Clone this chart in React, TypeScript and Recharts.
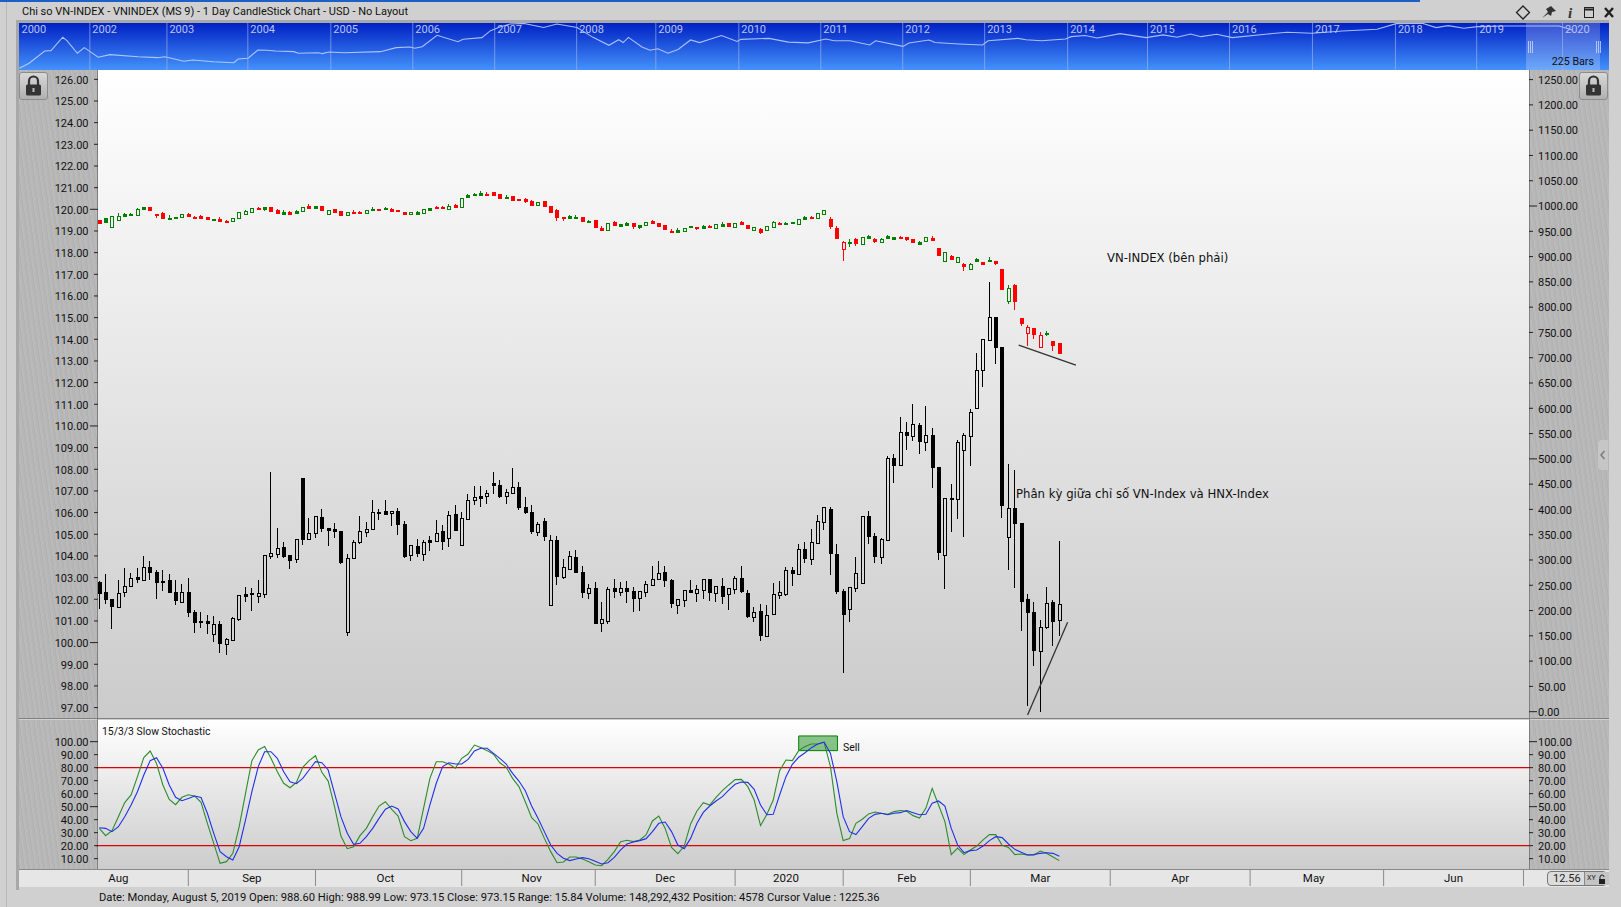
import React from 'react';
import {
  ComposedChart,
  LineChart,
  Bar,
  Line,
  XAxis,
  YAxis,
  ReferenceLine,
  ReferenceArea,
} from 'recharts';

// HNX-Index candles, left axis
const hnxOpen = [
  102.78,102.32,102.00,101.66,102.32,102.60,103.03,102.87,103.49,103.26,
  102.84,102.89,102.34,101.89,102.34,101.41,100.98,100.98,100.41,100.86,
  99.95,100.14,101.10,102.23,102.27,102.17,102.26,104.01,104.10,104.41,
  104.03,103.84,107.60,104.77,105.04,105.80,105.28,105.23,105.15,100.51,
  103.89,104.63,105.12,105.26,106.03,106.08,105.97,106.08,105.47,104.03,
  104.46,104.10,104.72,104.71,105.15,104.84,105.94,104.52,105.72,106.57,
  106.75,106.75,107.37,107.27,106.75,106.92,107.18,106.26,106.03,105.12,
  105.61,101.74,104.74,103.04,103.41,103.94,103.26,102.31,102.52,100.89,
  101.01,102.51,102.35,102.51,102.38,102.07,102.35,102.68,102.95,103.26,
  102.89,101.75,101.98,102.43,102.31,102.44,102.92,102.31,102.61,102.26,
  102.49,102.98,102.29,101.20,101.44,100.32,101.34,102.21,102.26,103.34,
  103.18,104.32,103.88,104.61,105.58,106.17,104.09,102.38,101.57,102.54,
  102.77,105.84,104.92,103.97,104.75,108.51,108.18,109.72,109.55,110.03,
  109.28,109.57,108.11,104.06,106.66,106.61,108.88,109.55,110.83,112.57,
  113.98,115.03,113.65,104.86,106.21,105.52,102.00,101.40,99.63,100.74,
  101.88,101.03,
];
const hnxHigh = [
  102.85,103.17,102.01,102.89,103.44,103.20,103.44,104.00,103.77,103.34,
  103.35,103.17,102.89,102.71,102.98,101.51,101.41,101.28,101.23,100.98,
  100.20,101.17,102.18,102.57,102.52,102.89,104.03,107.87,105.29,104.63,
  104.03,104.77,107.60,105.74,105.84,106.17,105.28,105.52,105.15,104.08,
  104.74,105.84,105.57,106.58,106.15,106.58,106.06,106.20,105.61,104.49,
  104.78,104.74,104.92,105.66,105.41,106.08,106.35,106.01,106.86,107.23,
  107.23,107.04,107.87,107.51,107.09,108.06,107.41,106.72,106.35,105.57,
  105.75,104.97,104.92,103.86,104.23,104.28,103.54,102.71,102.80,101.87,
  102.57,102.94,102.80,102.84,102.57,102.38,102.84,103.54,103.77,103.54,
  102.94,102.01,102.43,102.89,102.66,102.94,102.94,102.61,102.98,102.52,
  103.08,103.54,102.43,101.64,101.78,101.74,102.75,102.84,103.49,103.51,
  104.55,104.64,105.24,105.89,106.26,106.26,104.55,102.47,102.55,103.95,
  105.83,106.08,105.06,104.83,108.61,108.71,110.41,110.18,111.01,110.15,
  110.92,109.91,108.11,106.66,107.32,109.34,109.66,110.77,113.37,114.01,
  116.65,115.03,113.65,108.25,107.97,105.52,102.25,101.88,101.05,102.57,
  101.97,104.69,
];
const hnxLow = [
  101.57,101.78,100.63,101.60,102.11,102.60,102.77,102.86,102.89,102.03,
  102.38,102.34,101.74,101.89,101.20,100.44,100.68,100.40,100.03,99.52,
  99.44,100.07,101.01,101.87,101.46,101.83,102.06,103.86,103.92,103.92,
  103.40,103.69,104.51,104.77,104.83,105.11,104.46,104.83,103.64,100.31,
  103.89,104.54,104.88,105.26,105.66,105.89,105.38,104.97,103.90,103.77,
  103.95,103.77,104.23,104.66,104.28,104.41,105.15,104.52,105.72,106.35,
  106.27,106.40,106.86,106.69,106.40,106.92,106.12,105.94,105.01,104.92,
  104.69,101.71,102.66,102.94,103.41,103.23,102.06,102.01,100.88,100.49,
  100.86,102.06,102.15,101.83,101.41,101.46,102.11,102.68,102.95,102.57,
  101.60,101.32,101.64,102.29,101.87,102.01,101.92,101.87,101.78,101.51,
  102.24,102.29,101.14,100.95,100.07,100.32,101.34,102.01,102.15,102.61,
  103.18,103.67,103.58,104.55,105.20,103.12,102.24,98.58,100.95,102.34,
  102.77,104.55,103.67,103.63,104.75,107.38,108.18,108.89,109.31,108.71,
  108.85,107.14,103.81,102.48,105.11,105.71,104.88,108.15,110.78,111.80,
  113.98,112.86,105.75,103.35,102.52,100.54,97.08,98.92,96.80,100.63,
  99.85,100.31,
];
const hnxClose = [
  102.31,102.03,101.71,102.31,102.60,102.97,102.95,103.47,103.26,102.81,
  102.81,102.34,101.98,102.32,101.41,100.95,100.95,100.92,100.84,100.00,
  100.15,101.12,102.18,102.17,102.24,102.27,104.03,104.12,104.35,104.00,
  103.83,104.77,104.80,105.04,105.83,105.29,105.20,105.17,103.74,103.89,
  104.63,105.14,105.23,106.01,106.00,105.95,106.06,105.47,104.00,104.49,
  104.15,104.63,104.66,105.04,104.71,105.87,105.20,105.74,106.57,106.70,
  106.66,106.89,107.29,106.77,106.94,107.17,106.26,106.03,105.17,105.47,
  104.92,104.74,103.09,103.47,103.98,103.28,102.35,102.51,100.92,101.08,
  102.46,102.40,102.51,102.40,102.06,102.37,102.69,102.92,103.20,102.91,
  101.83,102.00,102.41,102.35,102.46,102.92,102.35,102.60,102.15,102.51,
  102.97,102.38,101.23,101.40,100.35,101.26,102.23,102.32,103.34,103.23,
  104.31,103.90,104.63,105.60,106.24,104.14,102.38,101.32,102.55,103.20,
  105.83,104.92,104.00,104.77,108.51,108.21,109.71,109.60,110.08,109.31,
  109.57,108.12,104.20,106.66,106.65,109.25,109.57,110.63,112.57,114.00,
  115.01,113.65,106.35,106.20,105.54,101.94,101.43,99.66,100.71,101.81,
  101.01,101.77,
];

// VN-Index candles, right axis
const vnOpen = [
  972.5,975.8,958.0,973.2,983.7,985.0,983.1,997.6,997.6,984.4,
  986.3,976.5,977.8,979.1,985.0,978.4,980.4,977.8,974.5,974.5,
  970.5,971.2,977.1,985.0,989.0,996.2,997.6,998.2,992.3,988.3,
  988.3,990.3,991.0,1000.9,1000.2,1000.2,985.0,994.3,990.3,983.1,
  988.3,988.3,987.0,994.3,994.3,996.2,994.3,991.6,988.3,983.7,
  987.7,987.0,996.2,998.2,998.2,994.9,1002.2,998.9,1021.9,1023.9,
  1025.9,1023.9,1027.2,1023.9,1018.0,1020.0,1014.0,1014.0,1010.1,1001.5,
  1009.4,1000.2,992.3,978.4,980.4,978.4,978.4,970.5,972.5,957.3,
  952.0,968.5,964.6,965.9,966.5,962.6,961.9,970.5,966.5,962.6,
  951.4,952.7,951.4,960.6,958.6,960.6,961.3,957.3,964.6,966.5,
  959.3,968.5,962.6,953.3,954.7,953.3,959.3,966.5,966.5,967.8,
  965.2,978.4,978.4,977.1,985.0,974.4,956.6,915.8,929.0,934.9,
  925.6,940.8,934.9,929.6,940.8,938.8,938.8,938.8,934.9,929.6,
  931.6,936.9,917.1,892.0,901.3,890.0,885.4,876.2,895.3,889.4,
  893.3,891.4,875.6,813.0,843.9,778.7,749.7,758.9,722.0,747.0,
  733.2,729.2,
];
const vnHigh = [
  972.5,975.8,979.8,986.3,986.3,986.3,996.2,997.6,997.6,984.4,
  987.7,981.7,977.8,983.7,986.3,980.4,981.7,977.8,974.5,978.4,
  972.5,975.8,987.7,992.3,996.2,998.2,997.6,998.2,994.3,992.3,
  990.3,992.3,997.6,1004.8,1000.2,1000.2,991.6,994.3,990.3,988.3,
  991.6,991.0,992.3,998.2,994.3,997.6,996.2,993.0,988.3,988.3,
  989.6,993.6,996.2,1000.2,999.5,1004.1,1004.1,1015.4,1023.9,1025.9,
  1029.9,1027.2,1027.2,1023.9,1021.9,1020.0,1014.0,1015.4,1012.1,1007.4,
  1009.4,1000.2,993.6,979.1,981.7,982.4,978.4,972.5,972.5,960.6,
  965.9,970.5,964.6,967.8,966.5,962.6,967.8,972.5,966.5,962.6,
  954.7,956.0,956.0,960.6,958.6,962.6,962.6,963.9,968.5,966.5,
  965.9,970.5,962.6,957.9,957.3,960.6,970.5,968.5,968.5,967.8,
  973.8,980.4,980.4,985.6,992.2,978.4,960.6,931.0,934.9,936.9,
  938.8,942.8,936.9,936.9,942.8,938.8,940.8,938.8,934.9,931.0,
  938.8,940.8,917.1,908.5,903.2,898.6,887.4,886.8,897.3,889.4,
  899.3,891.4,875.6,843.9,845.9,778.7,764.8,758.9,751.0,753.0,
  733.2,729.2,
];
const vnLow = [
  965.3,969.2,958.0,973.2,978.4,983.1,983.1,994.9,990.3,976.5,
  977.1,975.1,975.1,979.1,979.1,974.5,975.8,974.5,973.2,968.6,
  966.6,971.2,977.1,985.0,987.7,994.9,991.0,991.0,985.7,985.0,
  982.4,987.0,991.0,996.9,996.9,990.3,985.0,989.0,983.1,983.1,
  987.0,987.0,987.0,993.0,991.0,994.9,991.0,990.3,984.4,983.7,
  985.0,987.0,993.0,996.9,996.9,994.9,998.9,998.9,1016.0,1022.6,
  1022.6,1022.6,1022.6,1016.7,1016.7,1010.1,1012.1,1006.8,1002.8,1001.5,
  1000.9,989.0,970.5,971.2,977.1,977.1,968.5,969.2,959.3,950.7,
  952.0,963.2,961.3,963.2,954.7,954.7,961.9,967.2,961.3,955.3,
  949.4,946.1,951.4,959.3,952.7,956.6,958.6,954.7,961.3,958.6,
  959.3,964.6,956.6,953.3,944.8,953.3,959.3,965.2,965.2,964.6,
  965.2,974.4,977.1,977.1,985.0,954.7,936.9,891.4,919.0,921.0,
  925.6,936.9,927.0,929.6,936.9,935.5,937.5,931.0,927.0,925.6,
  931.6,932.9,903.2,892.0,893.3,890.0,871.6,876.2,889.4,883.5,
  891.4,883.5,834.1,806.4,794.5,762.9,723.3,737.1,722.0,743.1,
  713.4,709.5,
];
const vnClose = [
  965.9,969.2,979.8,979.8,980.4,983.1,993.6,994.9,992.3,982.4,
  977.1,975.1,976.5,983.7,980.4,976.5,977.1,974.5,973.2,971.2,
  969.2,975.8,987.7,989.6,995.6,994.9,994.9,991.0,987.0,985.0,
  984.4,987.0,997.6,996.9,996.9,993.0,991.6,989.0,983.1,988.3,
  987.0,987.0,992.3,993.0,993.0,994.9,991.0,990.3,984.4,988.3,
  985.0,993.6,993.0,996.9,996.9,1000.2,998.9,1015.4,1018.0,1022.6,
  1022.6,1022.6,1022.6,1016.7,1016.7,1012.1,1012.1,1010.1,1002.8,1007.4,
  1000.9,989.0,979.1,976.5,977.1,977.1,971.1,969.2,959.3,952.7,
  965.9,963.2,961.3,963.2,961.3,959.3,967.8,967.2,961.3,955.3,
  949.4,949.4,956.0,959.3,957.3,956.6,958.6,963.9,961.3,960.6,
  965.9,964.6,956.6,957.9,948.7,960.6,967.8,965.2,965.2,966.5,
  973.8,974.4,977.1,985.6,992.2,960.6,936.9,928.3,928.3,927.0,
  938.8,936.9,931.0,934.2,936.9,935.5,937.5,934.9,929.0,925.6,
  938.8,932.9,903.2,908.5,895.3,898.6,881.5,885.4,891.4,885.4,
  891.4,887.4,836.0,837.4,813.0,768.8,760.2,747.7,744.4,748.4,
  725.3,709.5,
];
// g / r colour of each VN-Index candle, it follows the previous close and not the body
const vnTone = [
  'rgggggggrr', 'rgggrrrrgr', 'rggggrgrrg', 'rggrgrgrrg', 'rrggrgrrrg',
  'gggrrgrggg', 'grrrgrrrrg', 'rrrrggrgrr', 'grggrggrrr', 'rgggrgrggr',
  'grrgrggrgg', 'ggrggrrrgr', 'ggrgggrrrg', 'grrgrgrggr', 'grrgrrrrrg',
  'rr',
].join('');

// 15/3/3 slow stochastic
const stochK = [
  33.3,27.7,31.5,42.3,53.1,59.0,73.1,87.7,92.8,83.3,
  66.7,55.6,51.5,57.2,59.2,58.2,53.3,37.2,21.8,6.4,
  7.7,14.1,34.6,60.3,85.4,93.6,96.2,87.2,76.9,68.0,
  64.6,68.7,80.3,85.4,89.2,76.4,69.7,50.0,27.4,17.7,
  19.2,27.7,33.3,42.3,50.5,53.8,48.0,42.8,26.9,23.8,
  25.6,48.7,71.8,84.6,84.6,82.8,79.5,87.2,90.5,97.4,
  95.6,93.1,90.3,83.8,80.3,71.8,65.4,53.8,41.5,36.7,
  25.6,15.4,6.9,7.4,11.3,11.3,9.7,7.7,
  5.1,4.6,9.5,15.4,23.1,24.1,23.1,24.4,28.2,39.0,
  42.8,33.3,18.7,13.9,19.7,36.7,46.7,53.1,51.3,57.2,
  62.3,66.7,70.8,71.0,65.4,55.1,35.4,44.1,55.1,77.7,
  85.9,85.4,93.1,96.2,98.2,98.2,99.5,80.8,44.9,23.9,
  25.4,37.2,40.3,44.4,45.9,44.9,44.1,46.2,47.0,46.4,
  43.1,41.3,48.7,64.1,51.3,38.5,13.1,18.2,13.1,16.7,
  19.7,24.4,28.5,28.5,20.3,18.7,13.1,13.6,12.8,12.8,
  15.9,14.1,11.3,8.5,
];
const stochD = [
  33.8,33.3,30.8,34.6,42.3,51.3,61.5,74.4,85.4,87.7,
  79.5,66.7,57.2,54.6,56.2,58.2,57.0,44.9,29.5,15.4,
  11.5,9.0,19.2,39.8,61.5,80.8,92.3,92.3,87.2,76.9,
  69.2,67.7,71.8,78.2,84.6,83.8,78.2,60.3,42.3,29.5,
  21.0,21.8,26.9,33.3,41.0,48.0,50.5,48.2,38.5,30.8,
  25.6,33.3,51.3,68.0,80.8,83.8,82.8,82.8,86.4,92.8,
  94.9,94.9,91.0,87.2,82.8,75.6,69.7,62.3,50.5,41.0,
  30.8,20.5,14.1,10.3,8.5,9.7,10.8,10.0,
  8.0,5.9,6.9,11.0,16.7,21.3,22.8,23.9,25.4,30.8,
  37.2,38.2,30.8,20.5,17.7,25.6,37.2,45.6,50.5,54.4,
  57.7,62.8,67.2,69.0,68.7,63.3,51.3,43.8,44.1,59.0,
  73.1,82.6,88.0,91.5,95.4,98.2,99.7,91.0,69.2,42.3,
  30.8,28.5,34.6,41.0,44.1,44.9,43.8,44.9,45.4,47.0,
  45.4,43.8,44.1,52.6,54.4,50.5,33.3,20.5,14.6,16.2,
  16.7,19.7,23.9,26.9,26.2,21.3,17.2,14.9,12.8,13.1,
  14.1,14.6,14.1,11.8,
];

// overview strip
const navBars = [
  1,29,74,92,126,138,168,188,228,262,343,400,420,475,501,560,619,631,660,688,
  714,739,792,804,863,873,893,936,1041,1086,1126,1140,1161,1204,1264,1279,1333,1358,1385,1414,
  1454,1511,1549,1607,1653,1699,1727,1740,1755,1794,1817,1840,1869,1898,1934,1960,2023,2068,2079,2160,
  2216,2273,2324,2347,2393,2450,2467,2546,2563,2621,2638,2706,2775,2791,2877,2900,2945,3014,3030,3070,
  3105,3171,3246,3295,3335,3374,3404,3449,3494,3597,3652,3723,3812,3911,3966,4041,4081,4116,4161,4200,
  4280,4340,4435,4473,
];
const navLevels = [
  47,186,526,535,906,812,463,618,352,424,368,341,368,241,277,230,202,305,324,554,
  546,526,507,463,479,452,499,479,507,618,637,601,645,961,784,850,895,1089,1191,1274,
  1288,1174,1274,1174,903,684,837,759,903,637,548,587,463,568,831,759,953,789,848,875,
  770,751,859,809,809,692,809,654,748,831,759,720,692,809,875,837,809,859,922,953,
  886,1006,895,970,906,997,922,989,895,997,1044,1017,1080,1127,1283,1294,1172,1227,1155,1199,
  1219,1219,1219,1108,
];
const navYearBars = [0,204,426,659,898,1134,1370,1606,1834,2073,2309,2545,2781,3020,3250,3486,3725,3964,4198,4445];
const navYearLabels = ['2000','2002','2003','2004','2005','2006','2007','2008','2009','2010','2011','2012','2013','2014','2015','2016','2017','2018','2019','2020'];

const hnxTicks = [126,125,124,123,122,121,120,119,118,117,116,115,114,113,112,111,110,109,108,107,106,105,104,103,102,101,100,99,98,97];
const vnTicks = [1250,1200,1150,1100,1050,1000,950,900,850,800,750,700,650,600,550,500,450,400,350,300,250,200,150,100,50,0];
const stochTicks = [100,90,80,70,60,50,40,30,20,10];

const monthLabels = ['Aug','Sep','Oct','Nov','Dec','2020','Feb','Mar','Apr','May','Jun'];
const monthLabelBars = [3,24,45,68,89,108,127,148,170,191,213];
const monthStartBars = [14,34,57,78,100,117,137,159,181,202,224];

const bars = Array.from({ length: 225 }, (_, i) => i);
const rows = bars.map((bar) => {
  if (bar >= hnxOpen.length) return { bar };
  return {
    bar,
    hnxOpen: hnxOpen[bar], hnxHigh: hnxHigh[bar], hnxLow: hnxLow[bar], hnxClose: hnxClose[bar],
    hnxRange: [hnxLow[bar], hnxHigh[bar]],
    vnOpen: vnOpen[bar], vnHigh: vnHigh[bar], vnLow: vnLow[bar], vnClose: vnClose[bar],
    vnRange: [vnLow[bar], vnHigh[bar]],
    tone: vnTone[bar],
    k: stochK[bar],
    d: stochD[bar],
  };
});
const navRows = navBars.map((bar, i) => ({ bar, level: navLevels[i] }));

const uiFont = 'Roboto, "Noto Sans", sans-serif';
const noteFont = '"DejaVu Sans", sans-serif';
const axisLeftWidth = 96.12;
const axisRightWidth = 92;
const xPad = { left: 0, right: 2.33 };
const brushed = 'repeating-linear-gradient(82deg, #b2b2b2 0 1px, #bababa 1px 3px, #b6b6b6 3px 5px)';

const box = (left: number, top: number, width: number, height: number, extra: any = {}) => ({
  position: 'absolute' as const, left, top, width, height, ...extra,
});

// candlestick drawn from a [low, high] range bar
const makeCandle = (prefix: 'hnx' | 'vn') => (props: any) => {
  const { x, y, width, height, payload } = props;
  const open = payload[`${prefix}Open`];
  if (open === undefined || !(height > 0)) return <g />;
  const close = payload[`${prefix}Close`];
  const high = payload[`${prefix}High`];
  const low = payload[`${prefix}Low`];
  const unit = height / (high - low);
  const yOf = (v: number) => y + (high - v) * unit;
  const color = prefix === 'hnx' ? '#000000' : payload.tone === 'g' ? '#008000' : '#ff0000';
  const hollow = close > open;
  const cx = Math.round(x + width / 2);
  const top = Math.round(yOf(Math.max(open, close)));
  const bottom = Math.round(yOf(Math.min(open, close)));
  return (
    <g shapeRendering="crispEdges" stroke={color} strokeWidth={1}>
      <line x1={cx - 0.5} x2={cx - 0.5} y1={yOf(high)} y2={top} />
      <line x1={cx - 0.5} x2={cx - 0.5} y1={bottom} y2={yOf(low)} />
      <rect
        x={cx - 2}
        y={top + 0.5}
        width={3}
        height={Math.max(bottom - top, 1)}
        fill={hollow ? 'none' : color}
      />
    </g>
  );
};

const makeLeftTick = (isLong: (v: number) => boolean) => (props: any) => {
  const { y, payload } = props;
  return (
    <g>
      <line x1={isLong(payload.value) ? 90 : 94} x2={98} y1={y} y2={y} stroke="#222" />
      <text x={88.5} y={y + 0.8} textAnchor="end" dominantBaseline="central" fontSize={11} fontFamily={uiFont} fill="#111">
        {payload.value.toFixed(2)}
      </text>
    </g>
  );
};

const makeRightTick = (isLong: (v: number) => boolean) => (props: any) => {
  const { y, payload } = props;
  return (
    <g>
      <line x1={1529} x2={isLong(payload.value) ? 1537 : 1533} y1={y} y2={y} stroke="#222" />
      <text x={1538} y={y + 0.8} textAnchor="start" dominantBaseline="central" fontSize={11} fontFamily={uiFont} fill="#111">
        {payload.value.toFixed(2)}
      </text>
    </g>
  );
};

const MonthTick = (props: any) => {
  const { x, y, payload } = props;
  const at = monthLabelBars.indexOf(payload.value);
  if (at >= 0) {
    return (
      <text x={x} y={y + 9} textAnchor="middle" dominantBaseline="central" fontSize={11.5} fontFamily={uiFont} fill="#111">
        {monthLabels[at]}
      </text>
    );
  }
  return <line x1={x} x2={x} y1={y + 1} y2={y + 17} stroke="#8a8a8a" />;
};

const YearTick = (props: any) => {
  const { x, payload } = props;
  const at = navYearBars.indexOf(payload.value);
  return (
    <g>
      {at > 0 && <line x1={x} x2={x} y1={0} y2={47} stroke="#9fb4e6" strokeOpacity={0.65} />}
      <text x={x + 2.5} y={6} dominantBaseline="central" fontSize={11} fontFamily={uiFont} fill="#b9c4ea">
        {navYearLabels[at]}
      </text>
    </g>
  );
};

const Lock = ({ left, top }: { left: number; top: number }) => (
  <div style={box(left, top, 27, 26, {
    background: 'linear-gradient(#d8d8d8, #b0b0b0)', border: '1px solid #8c8c8c', borderRadius: 3,
  })}>
    <svg width={27} height={26}>
      <path d="M9 12 V8 a4.5 4.5 0 0 1 9 0 V12" fill="none" stroke="#333" strokeWidth={2.2} />
      <rect x={6} y={11.5} width={15} height={11} rx={1.5} fill="#333" />
      <rect x={12.5} y={15} width={2} height={4} fill="#bbb" />
    </svg>
  </div>
);

const WindowIcons = () => (
  <svg style={box(1510, 3, 108, 18)} width={108} height={18}>
    <path d="M13 3 L19.5 9.5 L13 16 L6.5 9.5 Z" fill="none" stroke="#222" strokeWidth={1.3} />
    <path d="M32 15 L38 9 L36 6 L41 3 L46 8 L42 9 L41 13 L38 11 Z" fill="#333" />
    <text x={58} y={15} fontSize={15} fontStyle="italic" fontWeight={700} fontFamily="Liberation Serif, serif" fill="#333">i</text>
    <rect x={74.5} y={4.5} width={9} height={10} fill="none" stroke="#222" />
    <line x1={74.5} x2={83.5} y1={6.5} y2={6.5} stroke="#222" strokeWidth={2} />
    <path d="M95 5 L103 14 M103 5 L95 14" stroke="#222" strokeWidth={2.4} />
  </svg>
);

const Overview = () => (
  <div style={box(19, 23, 1590, 47, { background: 'linear-gradient(#0020c4, #4492fa)' })}>
    <LineChart width={1590} height={48} data={navRows} margin={{ top: 0, right: 0, bottom: 0, left: 0 }}>
      <XAxis
        dataKey="bar"
        type="number"
        domain={[0, 4579]}
        ticks={navYearBars}
        interval={0}
        height={1}
        axisLine={false}
        tickLine={false}
        tick={YearTick}
      />
      <YAxis hide domain={[0, 1300]} />
      <ReferenceArea x1={4340} x2={4553} y1={0} y2={1300} fill="#ffffff" fillOpacity={0.22} stroke="none" />
      <Line dataKey="level" stroke="#c4d4ff" strokeOpacity={0.85} strokeWidth={1.1} dot={false} isAnimationActive={false} />
    </LineChart>
    {/* grips of the selected range */}
    <svg style={box(1508, 18, 76, 12)} width={76} height={12}>
      <path d="M1.5 0V12M3.5 0V12M5.5 0V12M69.5 0V12M71.5 0V12M73.5 0V12" stroke="#dfe6ff" strokeOpacity={0.7} />
    </svg>
    <div style={box(1465, 32, 110, 14, { textAlign: 'right', font: `10.7px ${uiFont}`, lineHeight: '14px', color: '#111' })}>
      225 Bars
    </div>
  </div>
);

const PriceChart = () => (
  <div style={box(0, 70, 1621, 648)}>
    <ComposedChart width={1621} height={648} data={rows} margin={{ top: 0, right: 0, bottom: 0, left: 0 }} barGap={0}>
      <XAxis xAxisId="hnx" dataKey="bar" scale="band" hide padding={xPad} />
      <XAxis xAxisId="vn" dataKey="bar" scale="band" hide padding={xPad} />
      <XAxis xAxisId="note" type="number" dataKey="bar" domain={[-0.5, 224.5]} hide padding={xPad} />
      <YAxis
        yAxisId="left"
        width={axisLeftWidth}
        domain={[96.52, 126.43]}
        allowDataOverflow
        ticks={hnxTicks}
        interval={0}
        axisLine={false}
        tickLine={false}
        tick={makeLeftTick((v) => v % 10 === 0)}
      />
      <YAxis
        yAxisId="right"
        orientation="right"
        width={axisRightWidth}
        domain={[-12.5, 1269]}
        allowDataOverflow
        ticks={vnTicks}
        interval={0}
        axisLine={false}
        tickLine={false}
        tick={makeRightTick((v) => v % 500 === 0)}
      />
      <Bar xAxisId="hnx" yAxisId="left" dataKey="hnxRange" barSize={5} shape={makeCandle('hnx')} isAnimationActive={false} />
      <Bar xAxisId="vn" yAxisId="right" dataKey="vnRange" barSize={5} shape={makeCandle('vn')} isAnimationActive={false} />
      <ReferenceLine
        xAxisId="note"
        yAxisId="left"
        stroke="#333333"
        strokeWidth={1.3}
        segment={[{ x: 144.6, y: 113.73 }, { x: 153.6, y: 112.81 }]}
      />
      <ReferenceLine
        xAxisId="note"
        yAxisId="left"
        stroke="#333333"
        strokeWidth={1.3}
        segment={[{ x: 146, y: 96.66 }, { x: 152.3, y: 100.94 }]}
      />
    </ComposedChart>
  </div>
);

const StochasticChart = () => (
  <div style={box(0, 719, 1621, 168)}>
    <ComposedChart width={1621} height={168} data={rows} margin={{ top: 0, right: 0, bottom: 0, left: 0 }}>
      <XAxis
        dataKey="bar"
        scale="band"
        padding={xPad}
        height={18}
        ticks={[...monthLabelBars, ...monthStartBars]}
        interval={0}
        tickSize={0}
        tickMargin={0}
        axisLine={false}
        tickLine={false}
        tick={MonthTick}
      />
      <XAxis xAxisId="note" type="number" dataKey="bar" domain={[-0.5, 224.5]} hide padding={xPad} />
      <YAxis
        yAxisId="left"
        width={axisLeftWidth}
        domain={[2.05, 117.44]}
        allowDataOverflow
        ticks={stochTicks}
        interval={0}
        axisLine={false}
        tickLine={false}
        tick={makeLeftTick((v) => v % 50 === 0)}
      />
      <YAxis
        yAxisId="right"
        orientation="right"
        width={axisRightWidth}
        domain={[2.05, 117.44]}
        allowDataOverflow
        ticks={stochTicks}
        interval={0}
        axisLine={false}
        tickLine={false}
        tick={makeRightTick((v) => v % 50 === 0)}
      />
      <ReferenceLine yAxisId="left" y={80} stroke="#e00000" strokeWidth={1.2} />
      <ReferenceLine yAxisId="left" y={20} stroke="#e00000" strokeWidth={1.2} />
      <ReferenceArea
        xAxisId="note"
        yAxisId="left"
        x1={110}
        x2={116.1}
        y1={93.1}
        y2={104.4}
        fill="#008000"
        fillOpacity={0.45}
        stroke="#008000"
      />
      <Line yAxisId="left" dataKey="k" stroke="#2c8c2c" strokeWidth={1.1} dot={false} isAnimationActive={false} />
      <Line yAxisId="left" dataKey="d" stroke="#2030e8" strokeWidth={1.1} dot={false} isAnimationActive={false} />
    </ComposedChart>
  </div>
);

export default function App() {
  return (
    <div style={box(0, 0, 1621, 907, { background: '#d0d0d0', overflow: 'hidden' })}>
      {/* window chrome */}
      <div style={box(0, 0, 1420, 2, { background: '#1c5fc8' })} />
      <div style={box(6, 2, 1, 905, { background: '#b8b8b8' })} />
      <div style={box(22, 4, 700, 16, { font: `11px ${uiFont}`, lineHeight: '16px', color: '#111', whiteSpace: 'nowrap' })}>
        Chi so VN-INDEX - VNINDEX (MS 9) - 1 Day CandleStick Chart - USD - No Layout
      </div>
      <WindowIcons />
      <div style={box(16, 20, 1593, 3, { background: '#a8a8a8' })} />
      <div style={box(16, 20, 3, 870, { background: '#a8a8a8' })} />

      <Overview />

      {/* panels behind the charts */}
      <div style={box(19, 70, 79, 649, { background: brushed })} />
      <div style={box(1529, 70, 80, 649, { background: brushed })} />
      <div style={box(19, 720, 79, 149, { background: brushed })} />
      <div style={box(1529, 720, 80, 149, { background: brushed })} />
      <div style={box(98, 70, 1431, 648, { background: 'linear-gradient(#ffffff, #cbcbcb)' })} />
      <div style={box(19, 718, 1590, 1, { background: '#808080' })} />
      <div style={box(98, 720, 1431, 149, { background: 'linear-gradient(#ffffff, #cccccc)' })} />
      <div style={box(97, 70, 1, 799, { background: '#7f7f7f' })} />
      <div style={box(1529, 70, 1, 799, { background: '#7f7f7f' })} />
      <div style={box(19, 869, 1590, 18, { background: '#e6e6e6', borderTop: '1px solid #8a8a8a', boxSizing: 'border-box' })} />

      <PriceChart />
      <StochasticChart />

      <Lock left={19} top={72} />
      <Lock left={1579} top={72} />

      {/* notes on the chart */}
      <div style={box(1107, 250, 200, 16, { font: `11.7px ${noteFont}`, lineHeight: '16px', color: '#111', whiteSpace: 'nowrap' })}>
        VN-INDEX (bên phải)
      </div>
      <div style={box(1016, 486, 300, 16, { font: `11.7px ${noteFont}`, lineHeight: '16px', color: '#111', whiteSpace: 'nowrap' })}>
        Phân kỳ giữa chỉ số VN-Index và HNX-Index
      </div>
      <div style={box(102, 724, 200, 16, { font: `10.4px ${uiFont}`, lineHeight: '16px', color: '#111', whiteSpace: 'nowrap' })}>
        15/3/3 Slow Stochastic
      </div>
      <div style={box(843, 740, 40, 16, { font: `10.5px ${uiFont}`, lineHeight: '16px', color: '#111' })}>Sell</div>

      {/* corner badge, side handle and status line */}
      <div style={box(1547, 871, 60, 15, {
        background: '#dcdcdc', border: '1px solid #777', borderRadius: 4, boxSizing: 'border-box',
        font: `11px ${uiFont}`, lineHeight: '13px', color: '#222', paddingLeft: 5,
      })}>
        12.56
        <span style={{ position: 'absolute', left: 36, top: 0, bottom: 0, width: 22, borderLeft: '1px solid #888', background: '#c4c4c4', fontSize: 7, paddingLeft: 2 }}>XY</span>
        <svg style={box(50, 2, 8, 10)} width={8} height={10}>
          <path d="M2 5V3a2 2 0 0 1 4 0" fill="none" stroke="#222" />
          <rect x={1} y={5} width={6} height={5} fill="#222" />
        </svg>
      </div>
      <div style={box(1598, 440, 10, 30, { background: '#c6c6c6', borderRadius: '4px 0 0 4px' })}>
        <svg width={10} height={30}>
          <path d="M6.5 11 L3 15 L6.5 19" fill="none" stroke="#777" strokeWidth={1.4} />
        </svg>
      </div>
      <div style={box(99, 890, 1200, 16, { font: `11.2px ${uiFont}`, lineHeight: '16px', color: '#111', whiteSpace: 'nowrap' })}>
        Date: Monday, August 5, 2019 Open: 988.60 High: 988.99 Low: 973.15 Close: 973.15 Range: 15.84 Volume: 148,292,432 Position: 4578 Cursor Value : 1225.36
      </div>
    </div>
  );
}
